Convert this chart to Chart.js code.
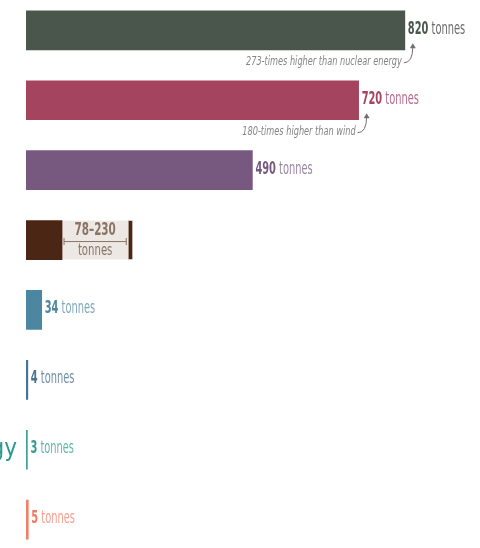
<!DOCTYPE html>
<html>
<head>
<meta charset="utf-8">
<script src="https://cdn.jsdelivr.net/npm/chart.js@4"></script>
<style>
  html, body { margin: 0; padding: 0; background: #fff; overflow: hidden; }
  body { width: 480px; height: 548px; position: relative; }
  #co2Chart { position: absolute; left: -140px; top: -28px; }
</style>
</head>
<body>
<canvas id="co2Chart" width="640" height="606"></canvas>
<script>
// lifecycle emissions per GWh
const categories = ["Coal", "Oil", "Natural gas", "Biomass", "Solar", "Wind", "Nuclear energy", "Hydropower"];
const values = [820, 720, 490, 78, 34, 4, 3, 5];
const rangeHigh = [null, null, null, 230, null, null, null, null]; // biomass is a range
const notes = ["273-times higher than nuclear energy", "180-times higher than wind", null, null, null, null, null, null];

const barColors = ["#4a564c", "#a4445f", "#77597f", "#4c2614", "#4c86a0", "#4a7390", "#3aa597", "#f0806a"];
const unitColors = ["#6b6b6b", "#b8698a", "#9a85a2", "#8b7366", "#7ea8bb", "#6f8fa6", "#5fb6aa", "#f4a08f"];
const numColors = ["#4a564c", "#a4445f", "#77597f", "#8b7366", "#4c86a0", "#4a7390", "#2f9c8e", "#f07a63"];

const FONT = '"Liberation Sans Narrow", "DejaVu Sans Condensed", sans-serif';
const SQUEEZE = 0.645; // the original type is extra condensed

// draw text squeezed horizontally, anchored at x
function squeezed(ctx, text, x, y, align, k) {
  ctx.save();
  ctx.translate(x, y);
  ctx.scale(k, 1);
  ctx.textAlign = align;
  ctx.fillText(text, 0, 0);
  ctx.restore();
  return ctx.measureText(text).width * k;
}

const labelsPlugin = {
  id: "valueLabels",
  afterDatasetsDraw(chart) {
    const ctx = chart.ctx;
    const main = chart.getDatasetMeta(0).data;
    const range = chart.getDatasetMeta(1).data;
    ctx.save();
    ctx.textBaseline = "middle";
    main.forEach((bar, i) => {
      if (rangeHigh[i] != null) {
        // label sits inside the light range bar
        const r = range[i];
        const x0 = r.base + 2, x1 = r.x - 6;
        const cx = (x0 + x1) / 2;
        ctx.fillStyle = numColors[i];
        ctx.font = "bold 17px " + FONT;
        squeezed(ctx, values[i] + "\u2013" + rangeHigh[i], cx, bar.y - 9, "center", 0.68);
        ctx.font = "15px " + FONT;
        squeezed(ctx, "tonnes", cx, bar.y + 11, "center", 0.75);
        ctx.strokeStyle = numColors[i];
        ctx.lineWidth = 1;
        ctx.beginPath();
        ctx.moveTo(x0, bar.y + 1.5); ctx.lineTo(x1, bar.y + 1.5);
        ctx.moveTo(x0, bar.y - 2); ctx.lineTo(x0, bar.y + 5);
        ctx.moveTo(x1, bar.y - 2); ctx.lineTo(x1, bar.y + 5);
        ctx.stroke();
        return;
      }
      const x = bar.x + 3;
      const y = bar.y - 1;
      ctx.font = "bold 17px " + FONT;
      ctx.fillStyle = numColors[i];
      const w = squeezed(ctx, String(values[i]), x, y, "left", SQUEEZE);
      ctx.font = "17px " + FONT;
      ctx.fillStyle = unitColors[i];
      squeezed(ctx, " tonnes", x + w, y, "left", SQUEEZE);

      if (notes[i]) {
        const ty = bar.y + bar.height / 2 + 12;
        ctx.font = "italic 13px " + FONT;
        ctx.fillStyle = "#858585";
        squeezed(ctx, notes[i], bar.x - 3, ty, "right", 0.7);
        // little curved arrow up to the value
        const tipX = bar.x + 8, tipY = bar.y + 13;
        ctx.strokeStyle = "#707070";
        ctx.lineWidth = 1;
        ctx.beginPath();
        ctx.moveTo(bar.x - 1, ty + 1);
        ctx.quadraticCurveTo(tipX, ty + 1, tipX, tipY + 3);
        ctx.stroke();
        ctx.fillStyle = "#707070";
        ctx.beginPath();
        ctx.moveTo(tipX, tipY);
        ctx.lineTo(tipX - 3, tipY + 5);
        ctx.lineTo(tipX + 3, tipY + 5);
        ctx.closePath();
        ctx.fill();
      }
    });
    ctx.restore();
  }
};

new Chart(document.getElementById("co2Chart").getContext("2d"), {
  type: "bar",
  data: {
    labels: categories,
    datasets: [
      {
        data: values,
        backgroundColor: barColors,
        barThickness: 39,
        grouped: false,
        order: 1
      },
      {
        data: categories.map((c, i) => rangeHigh[i] != null ? [values[i], rangeHigh[i]] : null),
        backgroundColor: "#ede8e3",
        borderColor: barColors,
        borderWidth: { left: 0, top: 0, bottom: 0, right: 4 },
        borderSkipped: false,
        barThickness: 39,
        grouped: false,
        order: 2
      }
    ]
  },
  options: {
    indexAxis: "y",
    responsive: false,
    animation: false,
    layout: { padding: { top: 6, bottom: 6, right: 12, left: 0 } },
    plugins: { legend: { display: false }, tooltip: { enabled: false } },
    scales: {
      x: { display: false, min: 0, max: 1000 },
      y: {
        grid: { display: false, drawTicks: false },
        border: { display: false },
        ticks: {
          padding: 9,
          font: { size: 24, family: FONT },
          color: (c) => c.index === 6 ? "#2a9a8c" : "rgba(0,0,0,0)"
        },
        afterFit(scale) { scale.width = 166; }
      }
    }
  },
  plugins: [labelsPlugin]
});
</script>
</body>
</html>
